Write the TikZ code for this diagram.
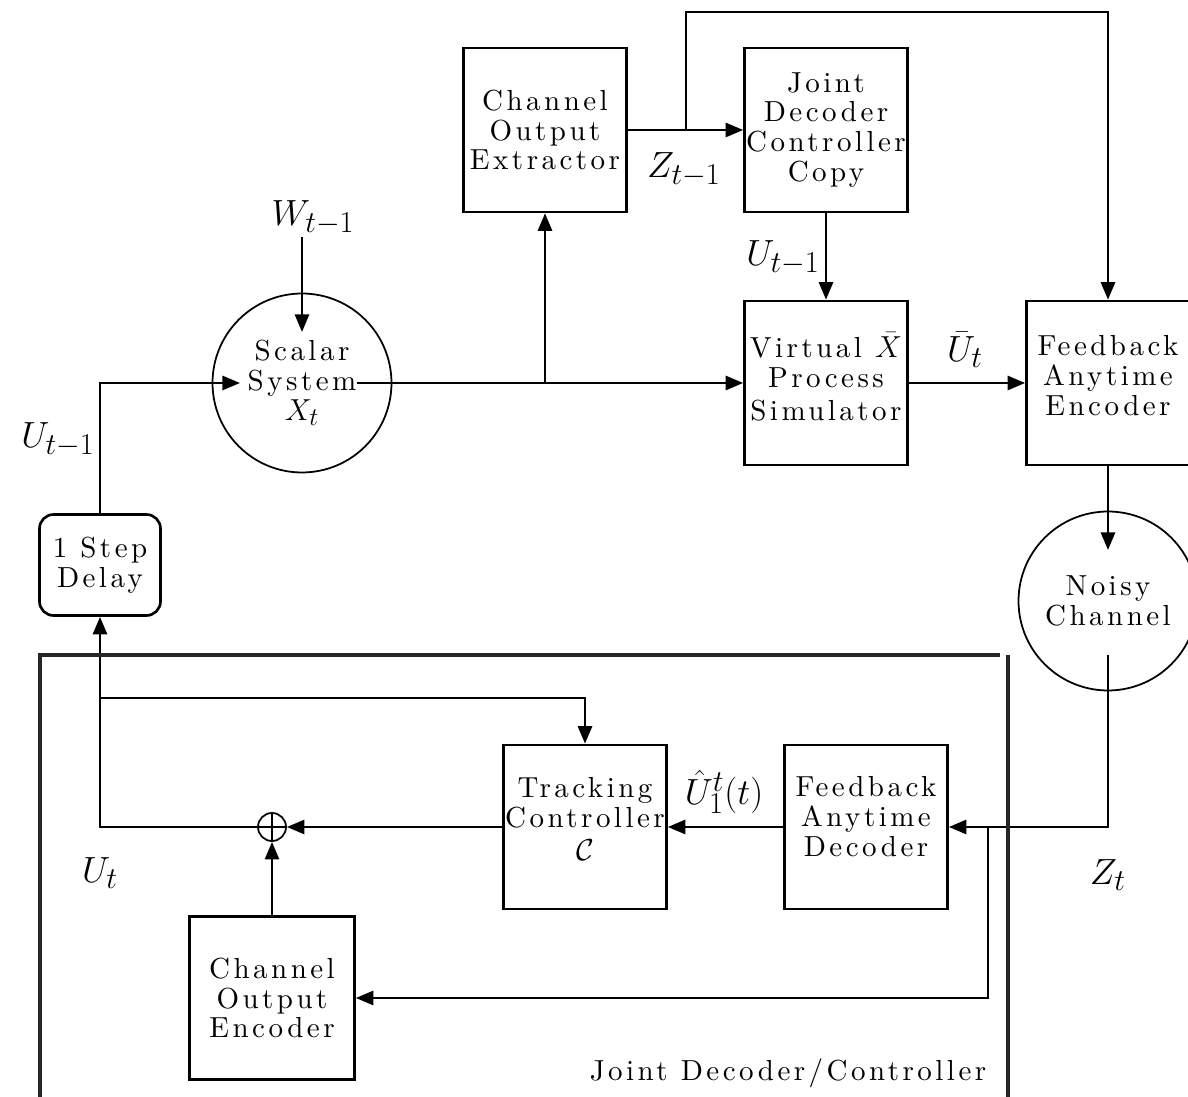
\documentclass[tikz,border=0pt]{standalone}
\usepackage{fontspec}
\usetikzlibrary{arrows.meta,calc}
\newfontfamily\spacedfont{lmroman10-regular}[Extension=.otf,LetterSpace=12]
\DeclareMathSizes{20}{20}{17}{13}
\DeclareMathSizes{16.5}{16.5}{14}{10}
\newcommand{\boxfont}{\spacedfont\fontsize{16.5}{17}\selectfont}
\newcommand{\labfont}{\fontsize{20}{22}\selectfont}

\begin{document}
\begin{tikzpicture}[x=0.02cm,y=-0.02cm,
  block/.style={draw,line width=1.5pt,minimum width=3.26cm,minimum height=3.28cm,
    align=center,inner sep=0pt,font=\boxfont},
  circ/.style={draw,circle,line width=1pt,minimum size=3.58cm,align=center,
    inner sep=0pt,font=\boxfont},
  lab/.style={font=\labfont,inner sep=1pt},
  arr/.style={line width=1.5pt,-{Triangle[length=10pt,width=8pt]}},
  frame/.style={line width=1.8pt,black!85}]
\useasboundingbox (0,0) rectangle (1188,1097);

% Blocks
\node[block] (extr) at (545,130) {Channel\\Output\\Extractor};
\node[block] (copy) at (826,130) {Joint\\Decoder\\Controller\\Copy};
\node[block] (virt) at (826,383) {Virtual $\bar{X}$\\Process\\[2pt]Simulator\\[-10pt]};
\node[block] (fenc) at (1108,383) {Feedback\\Anytime\\Encoder\\[-8pt]};
\node[block,rounded corners=8pt,minimum width=2.42cm,minimum height=2.02cm] (delay) at (100,565) {1 Step\\Delay};
\node[block] (track) at (585,827) {Tracking\\Controller\\[2pt]$\mathcal{C}$\\[-8pt]};
\node[block] (fdec) at (866,827) {Feedback\\Anytime\\Decoder\\[-5pt]};
\node[block,minimum width=3.3cm,minimum height=3.26cm] (cenc) at (272,998) {Channel\\Output\\Encoder};
\node[circ] (sys) at (302,383) {Scalar\\System\\$X_t$};
\node[circ] (chan) at (1108,601) {Noisy\\Channel};
\node[draw,circle,line width=1pt,minimum size=0.56cm,inner sep=0pt] (sum) at (272,827) {};
\draw[line width=0.8pt] (sum.north) -- (sum.south) (sum.west) -- (sum.east);

% Plant side
\node[lab] (w) at (313,218) {$W_{t-1}$};
\draw[arr] (sys.center |- w.south) -- ($(sys.center)+(0,-51)$);
\draw[arr] (delay.north) |- ($(sys.center)+(-62,0)$);
\node[lab] (uprev) at (58,440) {$U_{t-1}$};
\coordinate (tap2) at (extr.south |- virt.west);
\draw[arr] ($(sys.center)+(55,0)$) -- (virt.west);
\draw[arr] (tap2) -- (extr.south);

% Encoder side
\coordinate (tap1) at (686,130);
\coordinate (topc) at (686,12);
\draw[arr] (extr.east) -- (copy.west);
\draw[arr] (tap1) -- (topc) -| (fenc.north);
\node[lab] (zprev) at (684,170) {$Z_{t-1}$};
\draw[arr] (copy.south) -- (virt.north);
\node[lab] (ucopy) at (783,258) {$U_{t-1}$};
\draw[arr] (virt.east) -- (fenc.west);
\node[lab] (ubar) at (965,350) {$\bar{U}_t$};
\draw[arr] (fenc.south) -- ($(chan.center)+(0,-51)$);

% Decoder/controller side
\draw[arr] ($(chan.center)+(0,54)$) |- (fdec.east);
\node[lab] (zt) at (1108,875) {$Z_t$};
\coordinate (tap3) at (988,827);
\draw[arr] (tap3) |- (cenc.east);
\draw[arr] (fdec.west) -- (track.east);
\node[lab] (uhat) at (724,792) {$\hat{U}_1^t(t)$};
\draw[arr] (track.west) -- (sum.east);
\draw[arr] (cenc.north) -- (sum.south);
\draw[arr] (sum.west) -| (delay.south);
\coordinate (tap4) at (100,698);
\draw[arr] (tap4) -| (track.north);
\node[lab] (ut) at (100,873) {$U_t$};

% Joint decoder/controller boundary
\draw[frame] (40,1097) -- (40,655) -- (1000,655);
\draw[frame] (1008,655) -- (1008,1097);
\node[font=\boxfont] (jdc) at (788,1073) {Joint Decoder/Controller};

\end{tikzpicture}
\end{document}
